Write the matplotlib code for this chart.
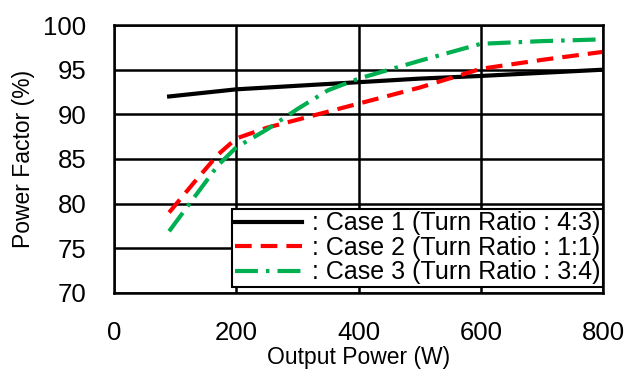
import numpy as np
import matplotlib
matplotlib.use("Agg")
import matplotlib.pyplot as plt

plt.rcParams['font.family'] = ['Liberation Sans', 'DejaVu Sans']
plt.rcParams['lines.scale_dashes'] = False

# values
power_case1 = [90, 200, 300, 400, 500, 600, 700, 800]
pf_case1 = [92.0, 92.8, 93.2, 93.6, 94.0, 94.3, 94.65, 95.0]

power_case2 = [90, 130, 170, 200, 250, 300, 350, 400, 500, 600, 700, 800]
pf_case2 = [79.0, 82.3, 85.5, 87.3, 88.5, 89.4, 90.3, 91.2, 93.0, 95.1, 96.1, 97.0]

power_case3 = [90, 130, 170, 200, 250, 300, 350, 400, 500, 600, 700, 800]
pf_case3 = [76.9, 80.6, 84.3, 86.3, 88.3, 90.6, 92.7, 94.0, 96.0, 97.9, 98.2, 98.4]

labels = [': Case 1 (Turn Ratio : 4:3)',
          ': Case 2 (Turn Ratio : 1:1)',
          ': Case 3 (Turn Ratio : 3:4)']

fig = plt.figure(figsize=(6.27, 3.74), dpi=100)
ax = fig.add_axes([0.182, 0.217, 0.78, 0.716])

ax.plot(power_case1, pf_case1, color='black', lw=3.0, label=labels[0])
ax.plot(power_case2, pf_case2, color='#ff0000', lw=3.0, dashes=(12, 6.5), label=labels[1])
ax.plot(power_case3, pf_case3, color='#00b050', lw=3.0, dashes=(16.5, 5.8, 2.5, 5.8), label=labels[2])

ax.set_xlim(0, 800)
ax.set_ylim(70, 100)
ax.set_xticks([0, 200, 400, 600, 800])
ax.set_yticks([70, 75, 80, 85, 90, 95, 100])
ax.grid(True, color='black', lw=1.8)
ax.set_axisbelow(True)
for s in ax.spines.values():
    s.set_linewidth(1.8)
ax.tick_params(length=0, labelsize=18.5)
ax.tick_params(axis='x', pad=20)
ax.tick_params(axis='y', pad=20)
ax.set_xlabel('Output Power (W)', fontsize=16.5, labelpad=1)
ax.set_ylabel('Power Factor (%)', fontsize=16.5, labelpad=6)

leg = ax.legend(loc='lower right', bbox_to_anchor=(1.0, 0.022), fontsize=18,
                fancybox=False, framealpha=1, edgecolor='black', borderpad=0.1,
                labelspacing=0.02, handlelength=2.7, handletextpad=0.4,
                borderaxespad=0)
leg.get_frame().set_linewidth(1.5)

fig.savefig('out.png', dpi=100)
